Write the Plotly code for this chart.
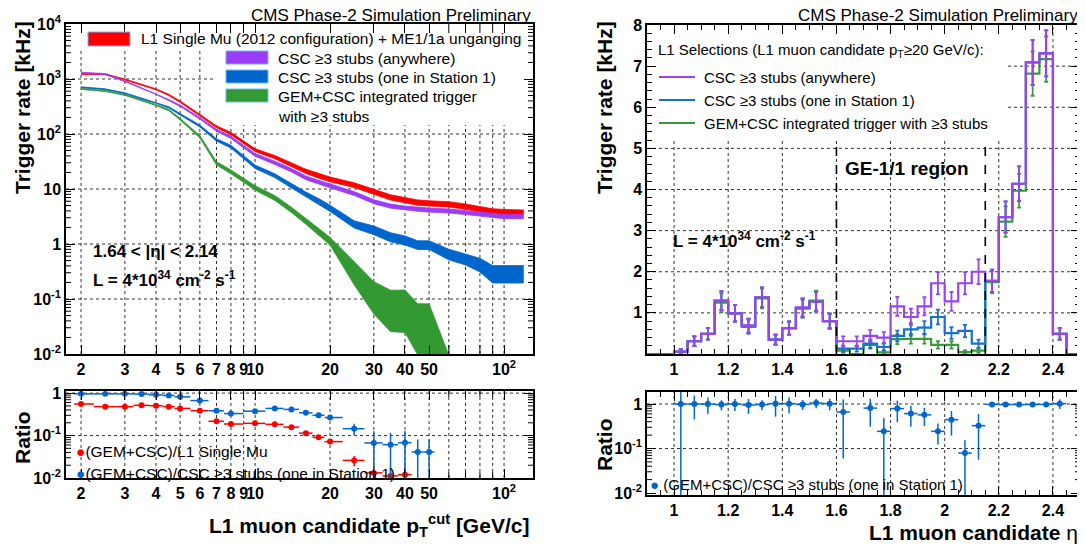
import plotly.graph_objects as go
import numpy as np

# The page body has an 8px margin, so the figure is made 8px smaller and all
# pixel positions below are given in window coordinates and shifted by OFF.
OFF = 8
W, H = 1085 - OFF, 545 - OFF

# ---------------- data: left panel (rate vs pT threshold) ----------------
pt = [2, 2.5, 3, 3.5, 4, 4.5, 5, 6, 7, 8, 10, 12, 14, 16, 18, 20, 25, 30, 35, 40, 45, 50, 60, 70, 80, 90, 100, 120]
rate_l1 = [1230, 1217, 980, 777, 650, 514, 387, 221, 135, 102, 51, 38, 27.5, 21, 17.5, 15, 11.8, 8.9, 7.07, 6.3, 5.7, 5.5, 5.3, 4.8, 4.27, 3.9, 3.8, 3.7]
err_l1 = [0.02, 0.02, 0.02, 0.02, 0.02, 0.025, 0.03, 0.035, 0.04, 0.05, 0.06, 0.07, 0.08, 0.09, 0.1, 0.1, 0.1, 0.1, 0.11, 0.11, 0.11, 0.11, 0.11, 0.11, 0.11, 0.12, 0.12, 0.12]
rate_csc = [1300, 1230, 910, 680, 534, 414, 327, 193, 117, 87, 41.7, 30, 22, 16, 13.3, 11.4, 8.3, 5.9, 4.9, 4.5, 4.3, 4.15, 4.0, 3.75, 3.5, 3.3, 3.17, 3.17]
err_csc = [0.02, 0.02, 0.02, 0.02, 0.02, 0.025, 0.03, 0.035, 0.04, 0.05, 0.06, 0.07, 0.07, 0.08, 0.08, 0.08, 0.08, 0.085, 0.085, 0.085, 0.085, 0.085, 0.085, 0.085, 0.09, 0.09, 0.09, 0.09]
rate_st1 = [706, 650, 550, 438, 372, 305, 228, 140, 78, 59, 25.4, 17.5, 11.5, 8.0, 6.0, 4.5, 2.3, 1.8, 1.35, 1.18, 0.97, 0.97, 0.66, 0.54, 0.43, 0.3, 0.3, 0.3]
err_st1 = [0.02, 0.02, 0.02, 0.025, 0.025, 0.03, 0.03, 0.04, 0.05, 0.06, 0.07, 0.08, 0.09, 0.1, 0.12, 0.13, 0.15, 0.18, 0.19, 0.19, 0.18, 0.18, 0.22, 0.23, 0.28, 0.35, 0.35, 0.35]
pt_gem = [2, 2.5, 3, 3.5, 4, 4.5, 5, 6, 7, 8, 10, 12, 14, 16, 18, 20, 25, 30, 35, 40, 45, 50, 60]
rate_gem = [660, 605, 514, 414, 337, 273, 186, 89, 29.3, 20.6, 10.5, 6.9, 4.2, 2.6, 1.7, 1.14, 0.33, 0.13, 0.085, 0.085, 0.046, 0.043, 0.005]
err_gem = [0.02, 0.02, 0.02, 0.025, 0.025, 0.03, 0.035, 0.05, 0.07, 0.08, 0.09, 0.1, 0.11, 0.12, 0.14, 0.16, 0.45, 0.59, 0.7, 0.71, 0.79, 0.9, 0.9]

# ratios (left)
ratio_pt = [2, 2.5, 3, 3.5, 4, 4.5, 5, 6, 7, 8, 10, 12, 14, 16, 18, 20, 25, 30, 35, 40, 45, 50]
ratio_l1 = [0.555, 0.48, 0.48, 0.515, 0.505, 0.48, 0.436, 0.384, 0.217, 0.187, 0.194, 0.184, 0.158, 0.114, 0.091, 0.072, 0.026, 0.0132, 0.0112, 0.012]
ratio_l1_err = [0.03, 0.02, 0.02, 0.02, 0.02, 0.02, 0.02, 0.025, 0.015, 0.013, 0.013, 0.013, 0.012, 0.01, 0.008, 0.007, 0.007, 0.006, 0.006, 0.006]
ratio_st1 = [0.96, 0.96, 0.96, 0.95, 0.91, 0.88, 0.816, 0.667, 0.384, 0.33, 0.376, 0.436, 0.413, 0.344, 0.30, 0.266, 0.145, 0.067, 0.061, 0.068, 0.041, 0.041]
ratio_st1_err = [0.03, 0.03, 0.03, 0.03, 0.03, 0.03, 0.03, 0.04, 0.03, 0.03, 0.03, 0.03, 0.03, 0.03, 0.03, 0.03, 0.045, 0.06, 0.055, 0.06, 0.04, 0.04]

# ---------------- data: right panel (rate vs eta, pT >= 20) ----------------
eta_lo = [round(0.9 + 0.05 * i, 2) for i in range(32)]
h_csc = [0, 0, 0.06, 0.31, 0.49, 1.30, 0.99, 0.69, 1.38, 0.35, 0.63, 1.13, 1.27, 0.80, 0.31, 0.31, 0.44, 0.40,
         1.16, 0.90, 1.16, 1.72, 1.28, 1.72, 2.00, 1.78, 3.33, 4.14, 7.09, 7.31, 0.49, 0]
h_csc_err = [0, 0, 0.06, 0.12, 0.14, 0.23, 0.2, 0.17, 0.24, 0.12, 0.16, 0.22, 0.24, 0.18, 0.12, 0.12, 0.14, 0.13,
             0.23, 0.2, 0.22, 0.27, 0.23, 0.27, 0.3, 0.27, 0.38, 0.42, 0.55, 0.56, 0.14, 0]
h_st1 = [0, 0, 0.06, 0.31, 0.49, 1.30, 0.99, 0.69, 1.38, 0.35, 0.63, 1.13, 1.27, 0.80, 0.13, 0.13, 0.25, 0.17,
         0.44, 0.60, 0.64, 0.90, 0.51, 0.56, 0.25, 1.78, 3.33, 4.14, 7.09, 7.31, 0.49, 0]
h_st1_err = [0, 0, 0.06, 0.12, 0.14, 0.23, 0.2, 0.17, 0.24, 0.12, 0.16, 0.22, 0.24, 0.18, 0.07, 0.07, 0.1, 0.08,
             0.13, 0.15, 0.16, 0.18, 0.14, 0.15, 0.1, 0.27, 0.38, 0.42, 0.55, 0.56, 0.14, 0]
h_gem = [0, 0, 0.06, 0.31, 0.49, 1.25, 0.99, 0.66, 1.35, 0.35, 0.63, 1.10, 1.30, 0.80, 0.08, 0.0, 0.22, 0.04,
         0.36, 0.37, 0.37, 0.22, 0.22, 0.045, 0.08, 1.75, 3.22, 3.97, 6.82, 7.17, 0.49, 0]
h_gem_err = [0, 0, 0.06, 0.12, 0.14, 0.23, 0.2, 0.17, 0.24, 0.12, 0.16, 0.22, 0.24, 0.18, 0.05, 0, 0.09, 0.04,
             0.12, 0.12, 0.12, 0.09, 0.09, 0.04, 0.05, 0.27, 0.37, 0.41, 0.54, 0.55, 0.14, 0]
ratio_eta = [1.025, 1.075, 1.125, 1.175, 1.225, 1.275, 1.325, 1.375, 1.425, 1.475, 1.525, 1.575, 1.625, 1.725,
             1.775, 1.825, 1.875, 1.925, 1.975, 2.025, 2.075, 2.125, 2.175, 2.225, 2.275, 2.325, 2.375, 2.425]
ratio_eta_val = [1.0, 1.0, 1.0, 0.97, 1.0, 0.95, 0.97, 1.02, 1.02, 0.98, 1.05, 1.02, 0.66, 0.81, 0.243, 0.79,
                 0.61, 0.57, 0.243, 0.445, 0.079, 0.326, 0.98, 0.97, 0.97, 0.98, 0.98, 1.02]
ratio_eta_err = [0.995, 0.55, 0.4, 0.25, 0.3, 0.35, 0.25, 0.5, 0.4, 0.25, 0.25, 0.3, 0.6, 0.5, 0.24, 0.4, 0.3,
                 0.25, 0.12, 0.25, 0.075, 0.27, 0.08, 0.05, 0.05, 0.04, 0.04, 0.25]

# tick labels
pt_ticks = [2, 3, 4, 5, 6, 7, 8, 9, 10, 20, 30, 40, 50, 100]
pt_text = ['2', '3', '4', '5', '6', '7', '8', '9', '10', '20', '30', '40', '50', '10<sup>2</sup>']
pt_grid = [2, 3, 4, 5, 6, 7, 8, 9, 10, 20, 30, 40, 50, 60, 70, 80, 90, 100]
eta_ticks = [1, 1.2, 1.4, 1.6, 1.8, 2, 2.2, 2.4]
eta_text = ['1', '1.2', '1.4', '1.6', '1.8', '2', '2.2', '2.4']

RED = '#ff0000'
PURPLE = '#9b3cf8'
BLUE = '#0066cc'
GREEN = '#339933'
H_PURPLE = '#9a44ea'
H_BLUE = '#1a6fd0'
H_GREEN = '#3a9a3a'
FONT = 'Liberation Sans'


def X(p):
    return (p - OFF) / W


def Y(p):
    return 1 - (p - OFF) / H


fig = go.Figure()

# ---- left top: bands ----
for vals, errs, col, xs in [(rate_l1, err_l1, RED, pt), (rate_csc, err_csc, PURPLE, pt),
                            (rate_st1, err_st1, BLUE, pt), (rate_gem, err_gem, GREEN, pt_gem)]:
    lo = [v * (1 - e) for v, e in zip(vals, errs)]
    hi = [v * (1 + e) for v, e in zip(vals, errs)]
    fig.add_trace(go.Scatter(x=xs, y=lo, mode='lines', line=dict(color=col, width=0.8),
                             showlegend=False, hoverinfo='skip', xaxis='x', yaxis='y'))
    fig.add_trace(go.Scatter(x=xs, y=hi, mode='lines', line=dict(color=col, width=0.8), fill='tonexty',
                             fillcolor=col, showlegend=False, hoverinfo='skip', xaxis='x', yaxis='y'))


# ---- left bottom: ratios ----
def xbars(xs, n):
    lo, hi = [], []
    for i in range(n):
        prev = xs[i - 1] if i > 0 else 1.75
        nxt = xs[i + 1] if i + 1 < len(xs) else xs[i] * 1.1
        lo.append(xs[i] - (prev + xs[i]) / 2)
        hi.append((xs[i] + nxt) / 2 - xs[i])
    return lo, hi


for vals, errs, col in [(ratio_l1, ratio_l1_err, RED), (ratio_st1, ratio_st1_err, BLUE)]:
    n = len(vals)
    xl, xh = xbars(ratio_pt, n)
    fig.add_trace(go.Scatter(x=ratio_pt[:n], y=vals, mode='markers',
                             marker=dict(color=col, size=6),
                             error_y=dict(type='data', array=errs, color=col, thickness=1.5, width=0),
                             error_x=dict(type='data', array=xh, arrayminus=xl, color=col, thickness=1.5, width=0),
                             showlegend=False, hoverinfo='skip', xaxis='x2', yaxis='y2'))

# ---- right top: histograms ----
edges = eta_lo + [2.5]
centers = [e + 0.025 for e in eta_lo]
for vals, errs, col in [(h_gem, h_gem_err, H_GREEN), (h_st1, h_st1_err, H_BLUE), (h_csc, h_csc_err, H_PURPLE)]:
    fig.add_trace(go.Scatter(x=edges, y=vals + [vals[-1]], mode='lines', line=dict(color=col, width=2.2, shape='hv'),
                             showlegend=False, hoverinfo='skip', xaxis='x3', yaxis='y3'))
    cx = [c for c, v in zip(centers, vals) if v > 0]
    cy = [v for v in vals if v > 0]
    ce = [e for e, v in zip(errs, vals) if v > 0]
    fig.add_trace(go.Scatter(x=cx, y=cy, mode='markers', marker=dict(color=col, size=1),
                             error_y=dict(type='data', array=ce, color=col, thickness=1.8, width=2),
                             showlegend=False, hoverinfo='skip', xaxis='x3', yaxis='y3'))

# ---- right bottom: ratio ----
fig.add_trace(go.Scatter(x=ratio_eta, y=ratio_eta_val, mode='markers', marker=dict(color=BLUE, size=6),
                         error_y=dict(type='data', array=ratio_eta_err, color=BLUE, thickness=1.5, width=0),
                         error_x=dict(type='constant', value=0.025, color=BLUE, thickness=1.5, width=0),
                         showlegend=False, hoverinfo='skip', xaxis='x4', yaxis='y4'))

tickfont = dict(family=FONT, size=16, color='black', weight='bold')
common = dict(showline=True, linecolor='black', linewidth=1.5, mirror='allticks', ticks='inside',
              ticklen=9, tickwidth=1, tickcolor='black', zeroline=False, showgrid=False,
              tickfont=tickfont, tickangle=0, automargin=False)

XR = [np.log10(1.74), np.log10(130.7)]
YR1 = [-2, 4]
YR2 = [-2, 0.05]
YR4 = [-2.045, 0.27]

ldx = [X(66), X(533)]
rdx = [X(647), X(1080)]

fig.update_layout(
    width=W, height=H, autosize=False, margin=dict(l=0, r=0, t=0, b=0, pad=0, autoexpand=False),
    paper_bgcolor='white', plot_bgcolor='white', showlegend=False,
    font=dict(family=FONT, color='black'),
    xaxis=dict(common, type='log', domain=ldx, range=XR, tickmode='array', tickvals=pt_ticks,
               ticktext=pt_text, anchor='y'),
    yaxis=dict(common, type='log', domain=[Y(354), Y(24)], range=YR1, tickmode='array',
               tickvals=[0.01, 0.1, 1, 10, 100, 1000, 10000],
               ticktext=['10<sup>-2</sup>', '10<sup>-1</sup>', '1', '10', '10<sup>2</sup>', '10<sup>3</sup>',
                         '10<sup>4</sup>'], anchor='x'),
    xaxis2=dict(common, type='log', domain=ldx, range=XR, tickmode='array', tickvals=pt_ticks,
                ticktext=pt_text, anchor='y2'),
    yaxis2=dict(common, type='log', domain=[Y(478), Y(391)], range=YR2, tickmode='array',
                tickvals=[0.01, 0.1, 1], ticktext=['10<sup>-2</sup>', '10<sup>-1</sup>', '1'], anchor='x2'),
    xaxis3=dict(common, domain=rdx, range=[0.9, 2.5], tickmode='array',
                tickvals=eta_ticks, ticktext=eta_text,
                minor=dict(dtick=0.05, tick0=0.9, ticks='inside', ticklen=5, tickcolor='black', showgrid=False),
                anchor='y3'),
    yaxis3=dict(common, domain=[Y(354), Y(25)], range=[0, 8], tickmode='array', tickvals=[1, 2, 3, 4, 5, 6, 7, 8],
                minor=dict(dtick=0.2, tick0=0, ticks='inside', ticklen=5, tickcolor='black', showgrid=False),
                anchor='x3'),
    xaxis4=dict(common, domain=rdx, range=[0.9, 2.5], tickmode='array',
                tickvals=eta_ticks, ticktext=eta_text,
                minor=dict(dtick=0.05, tick0=0.9, ticks='inside', ticklen=5, tickcolor='black', showgrid=False),
                anchor='y4'),
    yaxis4=dict(common, type='log', domain=[Y(495), Y(392)], range=YR4, tickmode='array',
                tickvals=[0.01, 0.1, 1], ticktext=['10<sup>-2</sup>', '10<sup>-1</sup>', '1'], anchor='x4'),
)

shapes = []
GRID = dict(color='#333333', width=1, dash='dot')
TICK = dict(color='black', width=1)


def lfrac(v, r):
    return (np.log10(v) - r[0]) / (r[1] - r[0])


def vgrid(ax, ay, xf, y0f, y1f):
    shapes.append(dict(type='line', xref=ax + ' domain', yref=ay + ' domain', x0=xf, x1=xf, y0=y0f, y1=y1f,
                       line=GRID, layer='below'))


def hgrid(ax, ay, yf, x0f, x1f):
    shapes.append(dict(type='line', xref=ax + ' domain', yref=ay + ' domain', x0=x0f, x1=x1f, y0=yf, y1=yf,
                       line=GRID, layer='below'))


def ytick_minor(ax, ay, yf, wpx, L=5):
    for a, b in [(0, L / wpx), (1 - L / wpx, 1)]:
        shapes.append(dict(type='line', xref=ax + ' domain', yref=ay + ' domain', x0=a, x1=b, y0=yf, y1=yf,
                           line=TICK))


def xtick_extra(ax, ay, xf, hpx, L=9):
    for a, b in [(0, L / hpx), (1 - L / hpx, 1)]:
        shapes.append(dict(type='line', xref=ax + ' domain', yref=ay + ' domain', x0=xf, x1=xf, y0=a, y1=b,
                           line=TICK))


# left top grid (legend areas left clear)
leg_split = (215 - 66) / 467
for v in pt_grid:
    f = lfrac(v, XR)
    top = (354 - 50) / 330 if f < leg_split else (354 - 125) / 330
    vgrid('x', 'y', f, 0, top)
for v in [0.1, 1, 10, 100]:
    hgrid('x', 'y', lfrac(v, YR1), 0, 1)
hgrid('x', 'y', lfrac(1000, YR1), 0, leg_split)
for d in [0.01, 0.1, 1, 10, 100, 1000]:
    for m in range(2, 10):
        ytick_minor('x', 'y', lfrac(m * d, YR1), 467)
for v in [60, 70, 80, 90]:
    xtick_extra('x', 'y', lfrac(v, XR), 330)
    xtick_extra('x2', 'y2', lfrac(v, XR), 87, L=6)
# left bottom grid
for v in pt_grid:
    vgrid('x2', 'y2', lfrac(v, XR), 0, 1)
for v in [0.1, 1]:
    hgrid('x2', 'y2', lfrac(v, YR2), 0, 1)
for d in [0.01, 0.1]:
    for m in range(2, 10):
        ytick_minor('x2', 'y2', lfrac(m * d, YR2), 467)
# right top grid
r_split = (1008 - 647) / 433
for v in eta_ticks:
    f = (v - 0.9) / 1.6
    top = 1 if f > r_split else (354 - 140) / 329
    vgrid('x3', 'y3', f, 0, top)
for v in [1, 2, 3, 4, 5]:
    hgrid('x3', 'y3', v / 8, 0, 1)
for v in [6, 7]:
    hgrid('x3', 'y3', v / 8, r_split, 1)
# right bottom grid
for v in eta_ticks:
    vgrid('x4', 'y4', (v - 0.9) / 1.6, 0, 1)
for v in [0.1, 1]:
    hgrid('x4', 'y4', lfrac(v, YR4), 0, 1)
for d in [0.01, 0.1, 1]:
    for m in range(2, 10):
        if m * d < 1.8:
            ytick_minor('x4', 'y4', lfrac(m * d, YR4), 433)

# dashed lines GE1/1 region
for xv in [1.6, 2.15]:
    shapes.append(dict(type='line', xref='x3', yref='y3', x0=xv, x1=xv, y0=0, y1=5.05,
                       line=dict(color='black', width=1.6, dash='dash')))
# left legend boxes
for (x0, x1, y0, y1, col) in [(88, 130, 32, 46, RED), (226, 268, 51, 64, PURPLE), (226, 268, 70, 83, BLUE),
                               (226, 268, 89, 102, GREEN)]:
    shapes.append(dict(type='rect', xref='paper', yref='paper', x0=X(x0), x1=X(x1), y0=Y(y1), y1=Y(y0),
                       fillcolor=col, line=dict(color='#6fb4ff', width=1)))
# right legend lines
for (yy, col) in [(77, H_PURPLE), (100, H_BLUE), (123, H_GREEN)]:
    shapes.append(dict(type='line', xref='paper', yref='paper', x0=X(659), x1=X(695), y0=Y(yy), y1=Y(yy),
                       line=dict(color=col, width=2)))
fig.update_layout(shapes=shapes)

ann = []


def text(x, y, s, size=15.5, xanchor='left', bold=False, angle=0, color='black'):
    ann.append(dict(x=X(x), y=Y(y), xref='paper', yref='paper', text=s, showarrow=False, xanchor=xanchor,
                    yanchor='middle', textangle=angle,
                    font=dict(family=FONT, size=size, color=color, weight='bold' if bold else 'normal')))


text(533, 15, 'CMS Phase-2 Simulation Preliminary', size=17, xanchor='right')
text(1080, 15, 'CMS Phase-2 Simulation Preliminary', size=17, xanchor='right')
text(22, 108, 'Trigger rate [kHz]', size=21, xanchor='center', bold=True, angle=-90)
text(604, 108, 'Trigger rate [kHz]', size=21, xanchor='center', bold=True, angle=-90)
text(22, 437, 'Ratio', size=21, xanchor='center', bold=True, angle=-90)
text(604, 445, 'Ratio', size=21, xanchor='center', bold=True, angle=-90)
text(531, 525, 'L1 muon candidate p<sub>T</sub><sup>cut</sup> [GeV/c]', size=21, xanchor='right', bold=True)
text(1080, 532, 'L1 muon candidate <span style="font-weight:normal">η</span>', size=21, xanchor='right', bold=True)

text(139, 39, 'L1 Single Mu (2012 configuration) + ME1/1a unganging')
text(276, 58, 'CSC ≥3 stubs (anywhere)')
text(276, 77, 'CSC ≥3 stubs (one in Station 1)')
text(276, 96, 'GEM+CSC integrated trigger')
text(276, 116, 'with ≥3 stubs')
text(91, 251, '1.64 < |η| < 2.14', size=17, bold=True)
text(91, 279, 'L = 4*10<sup>34</sup> cm<sup>-2</sup> s<sup>-1</sup>', size=17, bold=True)

text(74, 451, '<span style="color:#ff0000">●</span>(GEM+CSC)/L1 Single Mu')
text(74, 473, '<span style="color:#0066cc">●</span>(GEM+CSC)/CSC ≥3 stubs (one in Station 1)')

text(656, 51, 'L1 Selections (L1 muon candidate p<sub>T</sub>≥20 GeV/c):', size=15)
text(702, 77, 'CSC ≥3 stubs (anywhere)', size=15)
text(702, 100, 'CSC ≥3 stubs (one in Station 1)', size=15)
text(702, 123, 'GEM+CSC integrated trigger with ≥3 stubs', size=15)
text(907, 168, 'GE-1/1 region', size=19, xanchor='center', bold=True)
text(671, 240, 'L = 4*10<sup>34</sup> cm<sup>-2</sup> s<sup>-1</sup>', size=17, bold=True)
text(648, 484, '<span style="color:#0066cc">●</span> (GEM+CSC)/CSC ≥3 stubs (one in Station 1)', size=15)

fig.update_layout(annotations=ann)
fig.write_html('out.html')
